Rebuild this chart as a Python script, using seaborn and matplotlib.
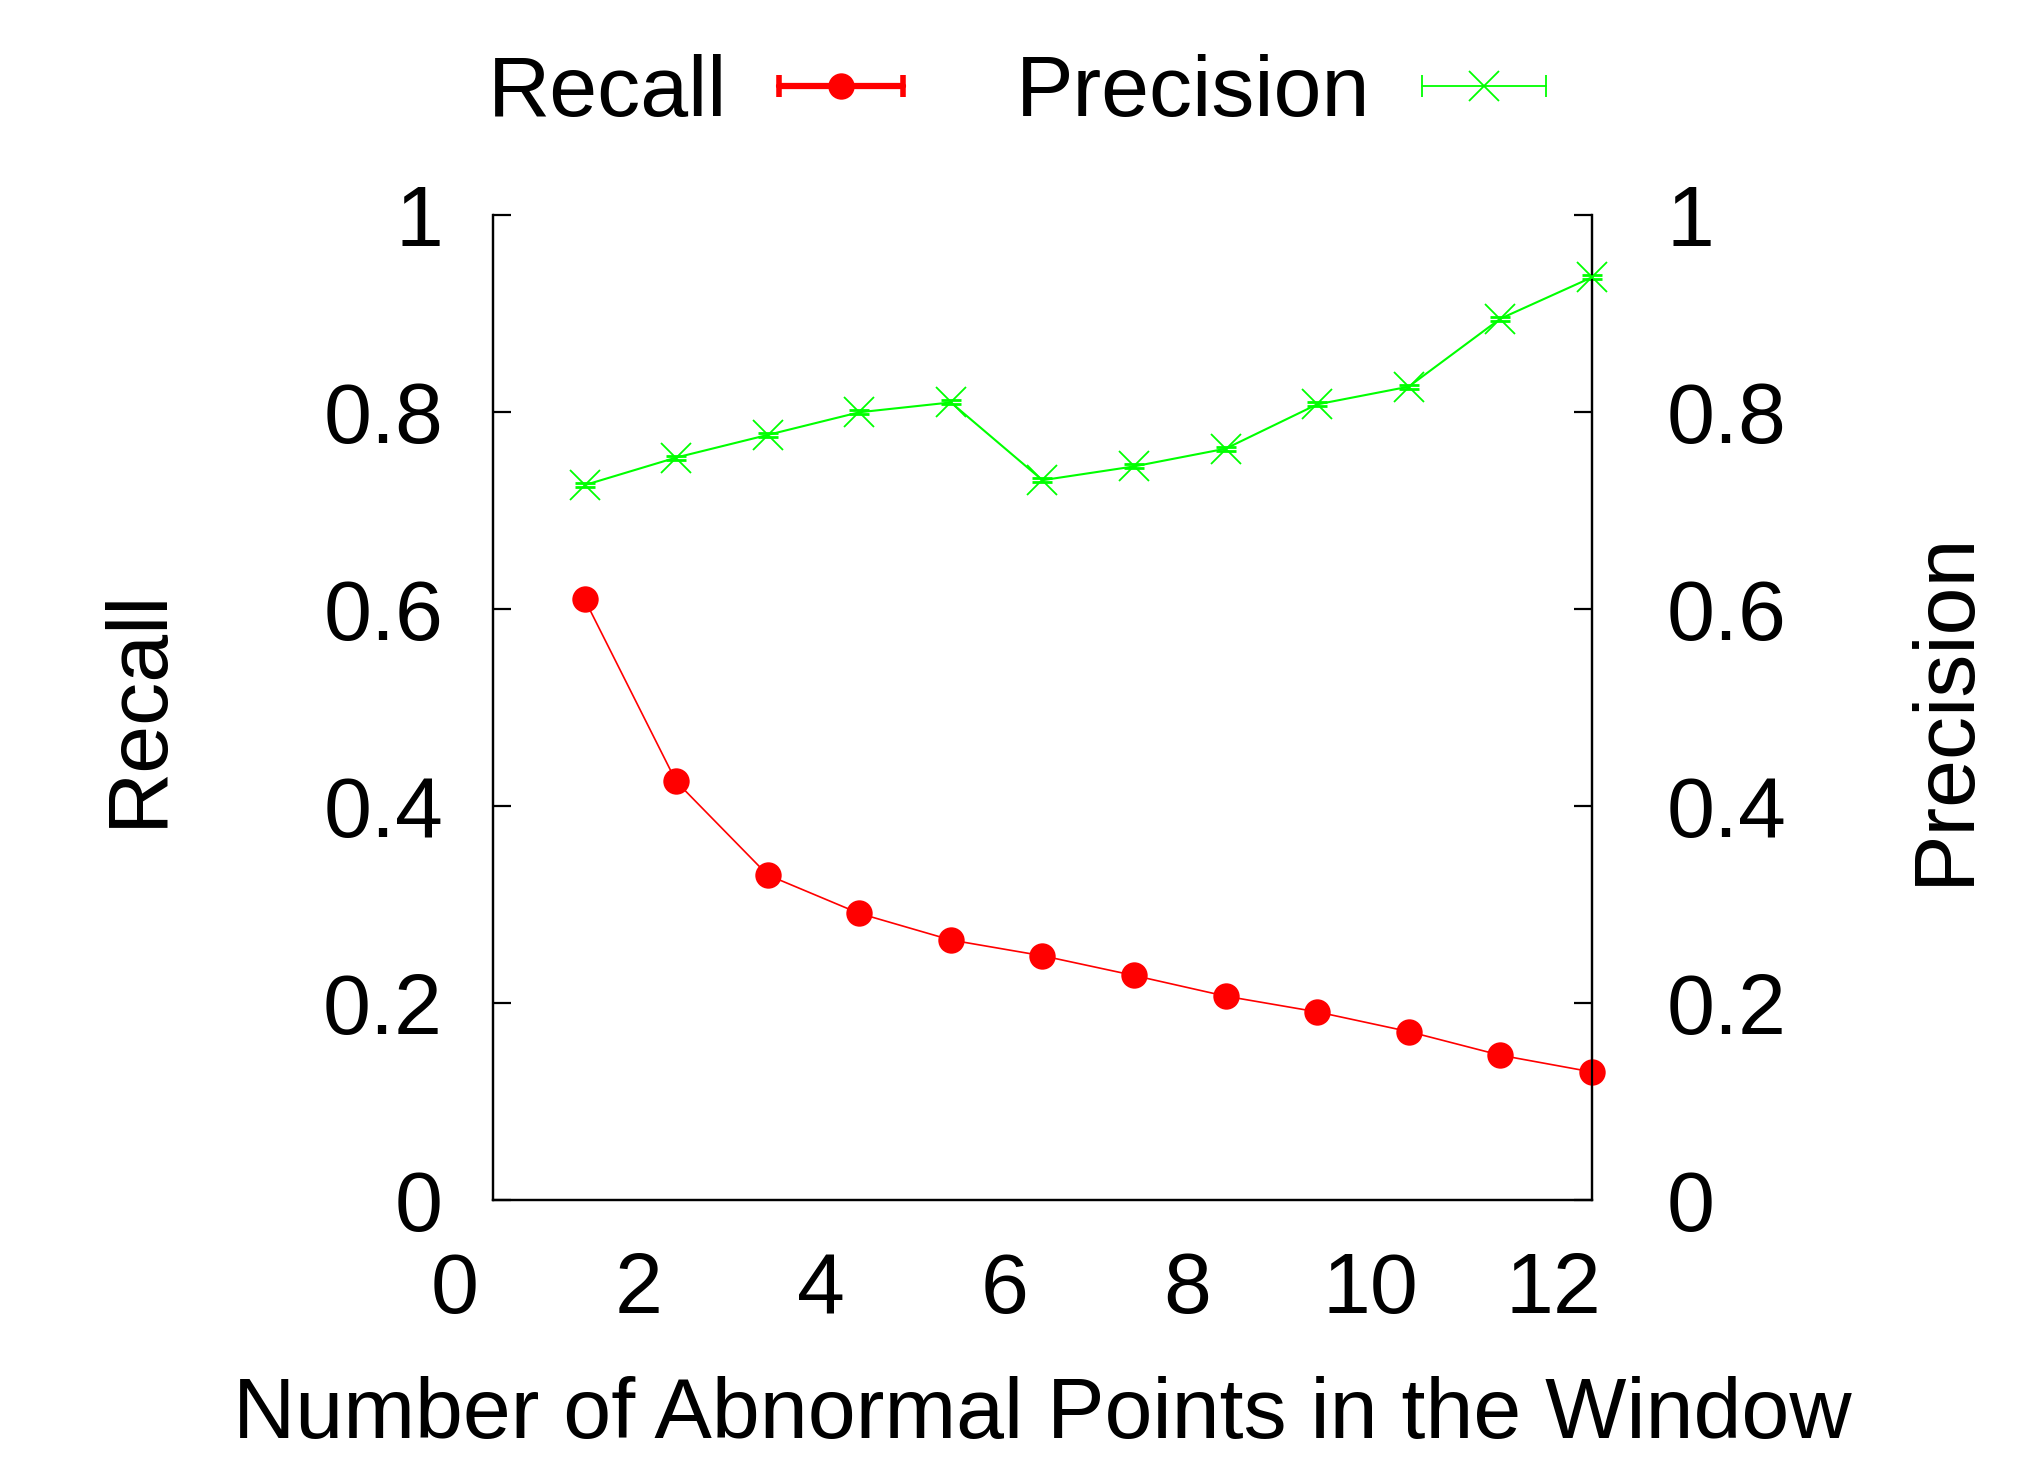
import numpy as np
import pandas as pd
import matplotlib
matplotlib.use("Agg")
import matplotlib.pyplot as plt
import matplotlib.transforms as mtransforms
from matplotlib.lines import Line2D
from matplotlib.legend_handler import HandlerLine2D, HandlerTuple
import seaborn as sns

# ---- data ----
window_points = [1, 2, 3, 4, 5, 6, 7, 8, 9, 10, 11, 12]
recall = [0.610, 0.425, 0.330, 0.291, 0.264, 0.248, 0.228, 0.207, 0.191, 0.171, 0.147, 0.130]
precision = [0.726, 0.754, 0.777, 0.800, 0.810, 0.731, 0.745, 0.763, 0.808, 0.826, 0.895, 0.937]
recall_err = [0.002] * 12
precision_err = [0.002] * 12
x_ticks = [0, 2, 4, 6, 8, 10, 12]
y_ticks = [0, 0.2, 0.4, 0.6, 0.8, 1]
y_ticklabels = ["0", "0.2", "0.4", "0.6", "0.8", "1"]

sns.set_theme(style="white")
plt.rcParams["font.family"] = ["Liberation Sans", "DejaVu Sans"]
plt.rcParams["text.color"] = "black"
plt.rcParams["axes.labelcolor"] = "black"
FS = 62

df = pd.DataFrame({"x": window_points, "recall": recall, "precision": precision})

fig = plt.figure(figsize=(20.34, 14.58), dpi=100)
ax = fig.add_axes([0.2424, 0.177, 0.7826 - 0.2424, 0.8523 - 0.177])
ax2 = ax.twinx()

RED = "#ff0000"
GREEN = "#00ff00"

sns.lineplot(data=df, x="x", y="recall", ax=ax, color=RED, lw=1.2,
             marker="o", markersize=19, markeredgewidth=0, legend=False,
             zorder=3, clip_on=False)
ax.errorbar(window_points, recall, yerr=recall_err, fmt="none", ecolor=RED,
            elinewidth=1.5, capsize=7, capthick=2, zorder=2, clip_on=False)

sns.lineplot(data=df, x="x", y="precision", ax=ax2, color=GREEN, lw=1.5,
             marker="x", markersize=21, markeredgewidth=1.3, markeredgecolor=GREEN,
             legend=False, zorder=3, clip_on=False)
ax2.errorbar(window_points, precision, yerr=precision_err, fmt="none", ecolor=GREEN,
             elinewidth=1.5, capsize=7, capthick=2, zorder=2, clip_on=False)

for a in (ax, ax2):
    a.set_xlim(0, 12)
    a.set_ylim(0, 1)
    a.set_yticks(y_ticks)
    a.set_yticklabels(y_ticklabels)
    a.spines["top"].set_visible(False)
    for s in ("left", "right", "bottom"):
        a.spines[s].set_visible(True)
        a.spines[s].set_color("black")
        a.spines[s].set_linewidth(1.6)
    a.grid(False)
    a.set_facecolor("none")

ax.set_xticks(x_ticks)
ax.set_xticklabels([str(t) for t in x_ticks])
ax.tick_params(axis="x", length=0, pad=37, labelsize=FS, colors="black")
ax.tick_params(axis="y", direction="in", length=13, width=1.6, pad=36,
               labelsize=FS, colors="black", left=True, right=False)
ax2.tick_params(axis="y", direction="in", length=13, width=1.6, pad=54,
                labelsize=FS, colors="black", right=True, left=False)

offset = mtransforms.ScaledTranslation(-0.38, 0, fig.dpi_scale_trans)
for lab in ax.get_xticklabels():
    lab.set_transform(lab.get_transform() + offset)

ax.set_xlabel("Number of Abnormal Points in the Window", fontsize=FS, va="center", color="black")
ax.xaxis.set_label_coords(0.5, -0.219)
ax.set_ylabel("Recall", fontsize=FS, va="center", color="black")
ax.yaxis.set_label_coords(-0.322, 0.5)
ax2.set_ylabel("Precision", fontsize=FS, va="center", rotation=90, color="black")
ax2.yaxis.set_label_coords(1.322, 0.5)

# legend handles (gnuplot-style: text then sample with errorbar caps)
r_line = Line2D([], [], color=RED, lw=4.5, marker="|", markersize=16, markeredgewidth=4)
r_dot = Line2D([], [], color=RED, lw=0, marker="o", markersize=19, markeredgewidth=0)
p_line = Line2D([], [], color=GREEN, lw=1.3, marker="|", markersize=16, markeredgewidth=1.3)
p_dot = Line2D([], [], color=GREEN, lw=0, marker="x", markersize=21, markeredgewidth=1.3)
hmap = {
    r_line: HandlerLine2D(numpoints=2, marker_pad=0),
    p_line: HandlerLine2D(numpoints=2, marker_pad=0),
    r_dot: HandlerLine2D(numpoints=1),
    p_dot: HandlerLine2D(numpoints=1),
    tuple: HandlerTuple(ndivide=1, pad=0),
}
leg = fig.legend([(r_line, r_dot), (p_line, p_dot)], ["Recall", "Precision"],
                 handler_map=hmap, loc="center", bbox_to_anchor=(0.500, 0.9355),
                 ncol=2, frameon=False, markerfirst=False, fontsize=FS,
                 handlelength=1.45, handletextpad=0.6, columnspacing=1.3)
for t in leg.get_texts():
    t.set_color("black")

fig.savefig("out.png", dpi=100)
